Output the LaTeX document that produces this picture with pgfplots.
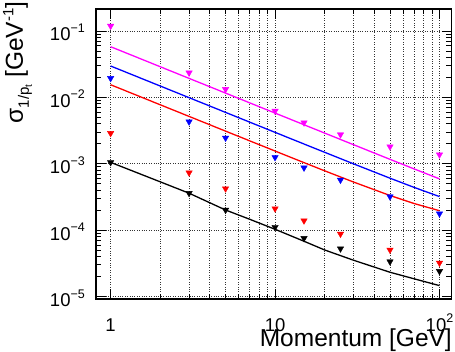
\documentclass[border=0pt]{standalone}
\usepackage{fontspec}
\setmainfont{Liberation Sans}
\usepackage{pgfplots}
\pgfplotsset{compat=1.18}
\definecolor{rmag}{RGB}{255,0,255}
\definecolor{rblue}{RGB}{0,0,255}
\definecolor{rred}{RGB}{255,0,0}
\newcommand{\tsup}[1]{\raisebox{8.5pt}{\fontsize{12.5}{12.5}\selectfont #1}}
\begin{document}
\begin{tikzpicture}
\begin{loglogaxis}[
  scale only axis, width=355.5pt, height=290pt,
  xmin=0.815, xmax=118.3, ymin=9.17e-6, ymax=0.2144,
  xtick={1,10,100}, xticklabels={1,10,10\tsup{2}},
  ytick={1e-5,1e-4,1e-3,1e-2,1e-1},
  yticklabels={10\tsup{−5},10\tsup{−4},10\tsup{−3},10\tsup{−2},10\tsup{−1}},
  xmajorgrids, xminorgrids, ymajorgrids,
  grid style={black!80, dotted, line width=0.6pt},
  major tick length=10pt, minor tick length=5.5pt,
  tick style={black, line width=0.7pt},
  tick align=inside,
  axis line style={line width=1.6pt},
  xticklabel style={font=\fontsize{18.5}{20}\selectfont, anchor=base, inner sep=0pt, yshift=-32pt},
  yticklabel style={font=\fontsize{18.5}{20}\selectfont, anchor=base east, inner sep=0pt, xshift=-11pt, yshift=-10pt},
  mark size=3.7pt,
]
% fitted curves
\addplot[rmag, line width=1.3pt, no marks] coordinates {
 (1,0.058) (2,0.029) (3,0.01933) (5,0.0116) (7,0.008286) (10,0.0058) (15,0.003869)
 (20,0.0029025) (30,0.001937) (50,0.001166) (70,0.0008373) (100,0.000592)};
\addplot[rblue, line width=1.3pt, no marks] coordinates {
 (1,0.0297) (2,0.01485) (3,0.0099) (5,0.00594) (7,0.004243) (10,0.002972) (15,0.001984)
 (20,0.00149) (30,0.000997) (50,0.000606) (70,0.000441) (100,0.00032)};
\addplot[rred, line width=1.3pt, no marks] coordinates {
 (1,0.0155) (2,0.00775) (3,0.005168) (5,0.003102) (7,0.002218) (10,0.001555) (15,0.00104)
 (20,0.000784) (30,0.0005305) (50,0.0003324) (70,0.0002519) (100,0.000196)};
\addplot[black, line width=1.3pt, no marks] coordinates {
 (1,1.05e-3) (2,5.35e-4) (3,3.6e-4) (5,2.01e-4) (7,1.46e-4) (10,1.03e-4) (15,6.8e-5)
 (20,5.03e-5) (30,3.52e-5) (50,2.32e-5) (70,1.85e-5) (100,1.46e-5)};
% measured points
\addplot[only marks, mark=triangle*, mark options={rotate=180, draw=rmag, fill=rmag}] coordinates {
 (1,0.119) (3,0.0235) (5,0.01325) (10,0.00624) (15,0.00416) (25,0.00275) (50,0.00181) (100,0.00137)};
\addplot[only marks, mark=triangle*, mark options={rotate=180, draw=rblue, fill=rblue}] coordinates {
 (1,0.0194) (3,0.0043) (5,0.00245) (10,0.00125) (15,0.00087) (25,0.00057) (50,0.00032) (100,0.000177)};
\addplot[only marks, mark=triangle*, mark options={rotate=180, draw=rred, fill=rred}] coordinates {
 (1,0.00288) (3,0.000734) (5,0.000422) (10,0.000211) (15,0.000139) (25,8.77e-5) (50,5.04e-5) (100,3.21e-5)};
\addplot[only marks, mark=triangle*, mark options={rotate=180, draw=black, fill=black}] coordinates {
 (1,0.00105) (3,0.00036) (5,0.000201) (10,0.000111) (15,7.55e-5) (25,5.26e-5) (50,3.36e-5) (100,2.4e-5)};
\end{loglogaxis}
\node[anchor=base east, inner sep=0pt, font=\fontsize{24.5}{26}\selectfont]
  at ([xshift=0.5pt,yshift=-47pt]current axis.south east) {Momentum [GeV]};
\node[rotate=90, anchor=base east, inner sep=0pt, font=\fontsize{24.5}{26}\selectfont]
  at ([xshift=-73pt,yshift=7.5pt]current axis.north west)
  {σ\raisebox{-6pt}{\fontsize{15}{15}\selectfont 1/p\raisebox{-3pt}{\fontsize{10}{10}\selectfont t}}\ [GeV\raisebox{9.5pt}{\fontsize{15}{15}\selectfont -1}]};
\pgfresetboundingbox
\path ([xshift=-96pt,yshift=-52pt]current axis.south west) rectangle ([xshift=3.5pt,yshift=9pt]current axis.north east);
\end{tikzpicture}
\end{document}
